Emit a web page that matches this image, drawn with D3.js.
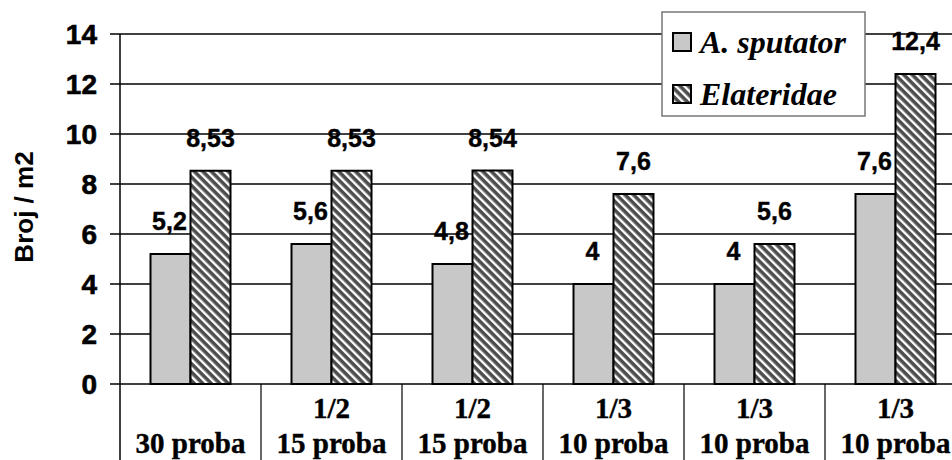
<!DOCTYPE html>
<html>
<head>
<meta charset="utf-8">
<script src="https://cdn.jsdelivr.net/npm/d3@7"></script>
<style>
  html, body { margin: 0; padding: 0; background: #fff; }
  svg { display: block; }
</style>
</head>
<body>
<svg id="chart" width="952" height="460"></svg>
<script>
const categoriesTop = ["", "1/2", "1/2", "1/3", "1/3", "1/3"];
const categoriesBottom = ["30 proba", "15 proba", "15 proba", "10 proba", "10 proba", "10 proba"];
const sputator = [5.2, 5.6, 4.8, 4, 4, 7.6];
const elateridae = [8.53, 8.53, 8.54, 7.6, 5.6, 12.4];
const sputatorLabels = ["5,2", "5,6", "4,8", "4", "4", "7,6"];
const elateridaeLabels = ["8,53", "8,53", "8,54", "7,6", "5,6", "12,4"];
const yTicks = [0, 2, 4, 6, 8, 10, 12, 14];

const svg = d3.select("#chart");
const plotLeft = 120;
const plotRight = 966;
const plotTop = 34;
const plotBase = 384;
const barWidth = 40;
const sansBold = "'Liberation Sans', Arial, sans-serif";
const serif = "'Liberation Serif', 'Times New Roman', serif";

const idx = d3.range(categoriesBottom.length);
const x = d3.scaleBand().domain(idx).range([plotLeft, plotRight]).paddingInner(0);
const y = d3.scaleLinear().domain([0, 14]).range([plotBase, plotTop]);

// hatch pattern
const defs = svg.append("defs");
const pat = defs
  .append("pattern")
  .attr("id", "hatch")
  .attr("patternUnits", "userSpaceOnUse")
  .attr("width", 6)
  .attr("height", 6)
  .attr("patternTransform", "rotate(-45)");
pat.append("rect").attr("width", 6).attr("height", 6).attr("fill", "#4d4d4d");
pat.append("rect").attr("x", 0).attr("width", 2.4).attr("height", 6).attr("fill", "#fff");

// gridlines + ticks
svg
  .append("g")
  .selectAll("line")
  .data(yTicks)
  .join("line")
  .attr("x1", plotLeft - 10)
  .attr("x2", plotRight)
  .attr("y1", (d) => y(d))
  .attr("y2", (d) => y(d))
  .attr("stroke", "#000")
  .attr("stroke-width", 1.5);

svg
  .append("g")
  .selectAll("text")
  .data(yTicks)
  .join("text")
  .attr("x", 97)
  .attr("y", (d) => y(d) + 10)
  .attr("text-anchor", "end")
  .attr("font-family", sansBold)
  .attr("font-weight", "bold")
  .attr("font-size", 28)
  .attr("stroke", "#000")
  .attr("stroke-width", 0.6)
  .text((d) => d);

// axis & table lines
svg
  .append("line")
  .attr("x1", plotLeft)
  .attr("x2", plotLeft)
  .attr("y1", plotTop)
  .attr("y2", 460)
  .attr("stroke", "#000")
  .attr("stroke-width", 1.5);

svg
  .append("g")
  .selectAll("line")
  .data(idx.slice(1))
  .join("line")
  .attr("x1", (d) => x(d))
  .attr("x2", (d) => x(d))
  .attr("y1", plotBase)
  .attr("y2", 460)
  .attr("stroke", "#000")
  .attr("stroke-width", 1.2);

// y label
svg
  .append("text")
  .attr("transform", "translate(33,207) rotate(-90)")
  .attr("text-anchor", "middle")
  .attr("font-family", sansBold)
  .attr("font-weight", "bold")
  .attr("font-size", 26)
  .text("Broj / m2");

// bars
const bars = svg.append("g");
bars
  .selectAll("rect.sp")
  .data(idx)
  .join("rect")
  .attr("class", "sp")
  .attr("x", (d) => x(d) + x.bandwidth() / 2 - barWidth)
  .attr("y", (d) => y(sputator[d]))
  .attr("width", barWidth)
  .attr("height", (d) => plotBase - y(sputator[d]))
  .attr("fill", "#c8c8c8")
  .attr("stroke", "#000")
  .attr("stroke-width", 2);

bars
  .selectAll("rect.el")
  .data(idx)
  .join("rect")
  .attr("class", "el")
  .attr("x", (d) => x(d) + x.bandwidth() / 2)
  .attr("y", (d) => y(elateridae[d]))
  .attr("width", barWidth)
  .attr("height", (d) => plotBase - y(elateridae[d]))
  .attr("fill", "url(#hatch)")
  .attr("stroke", "#000")
  .attr("stroke-width", 2);

// value labels
const labels = svg
  .append("g")
  .attr("font-family", sansBold)
  .attr("font-weight", "bold")
  .attr("font-size", 25)
  .attr("stroke", "#000")
  .attr("stroke-width", 0.4)
  .attr("text-anchor", "middle");

labels
  .selectAll("text.sp")
  .data(idx)
  .join("text")
  .attr("class", "sp")
  .attr("x", (d) => x(d) + x.bandwidth() / 2 - barWidth / 2 - 1)
  .attr("y", (d) => y(sputator[d]) - 24)
  .text((d) => sputatorLabels[d]);

labels
  .selectAll("text.el")
  .data(idx)
  .join("text")
  .attr("class", "el")
  .attr("x", (d) => x(d) + x.bandwidth() / 2 + barWidth / 2)
  .attr("y", (d) => y(elateridae[d]) - 24)
  .text((d) => elateridaeLabels[d]);

// category labels
const cats = svg
  .append("g")
  .attr("font-family", serif)
  .attr("font-weight", "bold")
  .attr("font-size", 29)
  .attr("stroke", "#000")
  .attr("stroke-width", 0.4)
  .attr("text-anchor", "middle");

cats
  .selectAll("text.t")
  .data(idx)
  .join("text")
  .attr("class", "t")
  .attr("x", (d) => x(d) + x.bandwidth() / 2)
  .attr("y", 418)
  .text((d) => categoriesTop[d]);

cats
  .selectAll("text.b")
  .data(idx)
  .join("text")
  .attr("class", "b")
  .attr("x", (d) => x(d) + x.bandwidth() / 2)
  .attr("y", 453)
  .text((d) => categoriesBottom[d]);

// legend
const legendItems = [
  { name: "A. sputator", fill: "#c8c8c8" },
  { name: "Elateridae", fill: "url(#hatch)" },
];
const legend = svg.append("g").attr("transform", "translate(662,12)");
legend
  .append("rect")
  .attr("width", 203)
  .attr("height", 104)
  .attr("fill", "#fff")
  .attr("stroke", "#777")
  .attr("stroke-width", 1.5);

const item = legend
  .selectAll("g.item")
  .data(legendItems)
  .join("g")
  .attr("class", "item")
  .attr("transform", (d, i) => `translate(11,${21 + i * 52})`);

item
  .append("rect")
  .attr("width", 18)
  .attr("height", 18)
  .attr("fill", (d) => d.fill)
  .attr("stroke", "#000")
  .attr("stroke-width", 2);

item
  .append("text")
  .attr("x", 27)
  .attr("y", 20)
  .attr("font-family", serif)
  .attr("font-weight", "bold")
  .attr("font-style", "italic")
  .attr("font-size", 32)
  .text((d) => d.name);
</script>
</body>
</html>
